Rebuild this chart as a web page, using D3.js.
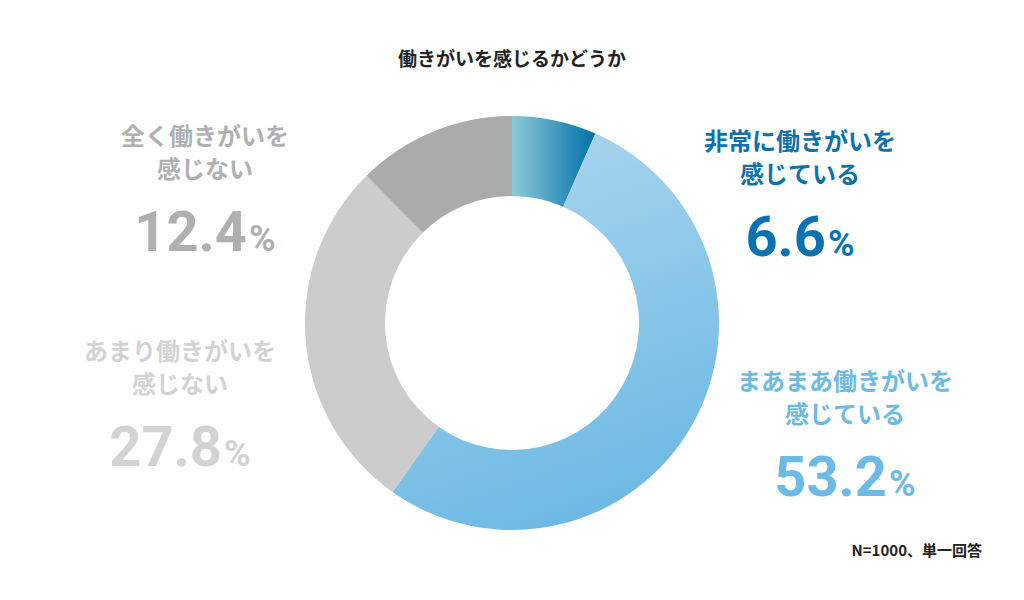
<!DOCTYPE html>
<html><head><meta charset="utf-8">
<script src="https://cdn.jsdelivr.net/npm/d3@7"></script>
<style>body{margin:0;background:#fff;font-family:"Noto Sans CJK JP","Noto Sans",sans-serif;}</style>
</head><body><div id="viz"></div>
<script>
// データ - data
var categories = ['非常に働きがいを感じている', 'まあまあ働きがいを感じている', 'あまり働きがいを感じない', '全く働きがいを感じない'];
var labelLines = [['非常に働きがいを', '感じている'], ['まあまあ働きがいを', '感じている'], ['あまり働きがいを', '感じない'], ['全く働きがいを', '感じない']];
var values = [6.6, 53.2, 27.8, 12.4];
var labelColors = ['#0a72b0', '#6cbbe6', '#d3d3d3', '#b0b0b0'];

var W = 1024, H = 600, cx = 512, cy = 323, R = 207, r = 127;

var svg = d3.select('#viz').append('svg').attr('width', W).attr('height', H);
var defs = svg.append('defs');

var g1 = defs.append('linearGradient').attr('id', 'gDark').attr('x1', '0').attr('x2', '1').attr('y1', '0').attr('y2', '0');
g1.append('stop').attr('offset', '0%').attr('stop-color', '#8ecad8');
g1.append('stop').attr('offset', '100%').attr('stop-color', '#0070aa');
var g2 = defs.append('linearGradient').attr('id', 'gLight').attr('x1', '0.2').attr('x2', '0.5').attr('y1', '0').attr('y2', '1');
g2.append('stop').attr('offset', '0%').attr('stop-color', '#acd6ee');
g2.append('stop').attr('offset', '100%').attr('stop-color', '#6db9e4');

var fills = ['url(#gDark)', 'url(#gLight)', '#cccccc', '#ababab'];

var pie = d3.pie().sort(null).value(function(d){return d;});
var arc = d3.arc().innerRadius(r).outerRadius(R);

svg.append('g').attr('transform', 'translate(' + cx + ',' + cy + ')')
.selectAll('path').data(pie(values)).enter()
.append('path').attr('d', arc).attr('fill', function(d, i){return fills[i];});

svg.append('text').attr('x', cx).attr('y', 66).attr('text-anchor', 'middle')
.attr('font-size', 19).attr('font-weight', 700).attr('fill', '#222').text('働きがいを感じるかどうか');

// ラベル位置 - label positions
var lx = [800, 845, 180, 205];
var ly = [150, 390, 360, 145];
values.forEach(function(v, i){
    var t = svg.append('g').attr('fill', labelColors[i]).attr('font-weight', 700);
    labelLines[i].forEach(function(l, j){
        t.append('text').attr('x', lx[i]).attr('y', ly[i] + j * 33).attr('text-anchor', 'middle')
        .attr('font-size', 24).text(l);
    });
    var n = t.append('text').attr('x', lx[i]).attr('y', ly[i] + 106).attr('text-anchor', 'middle')
    .attr('font-family', 'Roboto, sans-serif');
    n.append('tspan').attr('font-size', 56).text(v.toFixed(1));
    n.append('tspan').attr('font-size', 36).attr('dx', 2).text('%');
});

svg.append('text').attr('x', 982).attr('y', 556).attr('text-anchor', 'end')
.attr('font-size', 15).attr('font-weight', 700).attr('fill', '#222').text('N=1000、単一回答');
</script></body></html>
